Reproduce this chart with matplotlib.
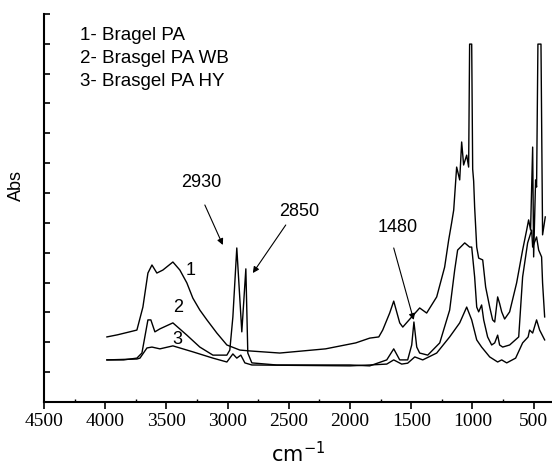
import matplotlib
matplotlib.use("Agg")
import matplotlib.pyplot as plt
from matplotlib.ticker import MultipleLocator, NullFormatter

plt.rcParams["mathtext.fontset"] = "custom"
plt.rcParams["mathtext.rm"] = "Liberation Sans"
plt.rcParams["mathtext.it"] = "Liberation Sans:italic"
plt.rcParams["mathtext.bf"] = "Liberation Sans:bold"

# ---- data (wavenumber cm-1, absorbance in arbitrary units) ----
wn1 = [3986, 3900, 3800, 3741, 3692, 3651, 3618, 3578, 3529, 3447, 3390, 3333, 3284,
       3227, 3169, 3088, 3006, 2900, 2818, 2574, 2200, 1953, 1839, 1765, 1733, 1676,
       1643, 1594, 1569, 1496, 1431, 1374, 1292, 1227, 1194, 1170, 1153, 1129, 1104,
       1088, 1072, 1047, 1031, 1023, 1006, 998, 990, 982, 965, 949, 916, 892, 859,
       835, 818, 794, 778, 761, 737, 696, 639, 590, 557, 541, 525, 508, 500, 484,
       476, 465, 440, 427, 405]
ab1 = [2.18, 2.25, 2.35, 2.41, 3.18, 4.32, 4.59, 4.32, 4.42, 4.69, 4.42, 3.99, 3.48,
       3.08, 2.75, 2.31, 1.91, 1.74, 1.71, 1.64, 1.78, 1.98, 2.14, 2.18, 2.41, 2.98,
       3.38, 2.65, 2.51, 2.85, 3.15, 2.98, 3.52, 4.52, 5.43, 6.00, 6.43, 7.87, 7.44,
       8.71, 7.94, 8.27, 7.87, 11.99, 11.99, 7.80, 7.40, 6.53, 5.19, 4.82, 4.76, 3.85,
       3.18, 2.75, 2.68, 3.52, 3.30, 3.02, 2.78, 3.02, 3.99, 5.09, 5.76, 6.10, 5.76,
       8.54, 4.86, 7.44, 7.20, 11.99, 11.99, 5.60, 6.20]

wn2 = [3986, 3850, 3741, 3700, 3651, 3627, 3594, 3553, 3447, 3333, 3227, 3120, 3006,
       2982, 2957, 2925, 2884, 2851, 2835, 2802, 2600, 2000, 1839, 1700, 1643,
       1594, 1529, 1496, 1478, 1455, 1431, 1365, 1267, 1186, 1145, 1121, 1063, 1023,
       1006, 982, 965, 949, 925, 908, 876, 843, 818, 794, 778, 753, 696, 622, 590,
       549, 516, 508, 476, 459, 435, 427, 410]
ab2 = [1.41, 1.41, 1.47, 1.64, 2.75, 2.75, 2.35, 2.45, 2.65, 2.24, 1.84, 1.57, 1.57,
       1.74, 2.85, 5.16, 2.35, 4.46, 1.64, 1.31, 1.24, 1.24, 1.21, 1.41, 1.78,
       1.41, 1.41, 1.91, 2.68, 1.84, 1.64, 1.57, 1.98, 3.08, 4.42, 5.09, 5.33, 5.19,
       5.19, 4.19, 3.18, 3.02, 3.25, 2.75, 2.18, 1.91, 1.98, 2.24, 1.91, 1.84, 1.91,
       2.18, 4.19, 5.33, 5.76, 5.19, 5.53, 5.09, 4.86, 3.99, 2.85]

wn3 = [3986, 3741, 3716, 3659, 3618, 3553, 3447, 3284, 3120, 3006, 2957, 2925,
       2892, 2859, 2802, 2000, 1839, 1700, 1643, 1578, 1529, 1471, 1406, 1292, 1186,
       1104, 1047, 1006, 965, 925, 859, 794, 761, 720, 647, 590, 545, 533, 508, 476,
       451, 410]
ab3 = [1.41, 1.44, 1.47, 1.81, 1.84, 1.78, 1.88, 1.68, 1.47, 1.34, 1.61, 1.47,
       1.57, 1.31, 1.24, 1.21, 1.24, 1.27, 1.41, 1.27, 1.30, 1.51, 1.41, 1.64, 2.18,
       2.65, 3.18, 2.75, 2.08, 1.84, 1.51, 1.34, 1.41, 1.31, 1.47, 1.98, 2.18, 2.41,
       2.31, 2.75, 2.41, 2.08]

legend_lines = ["1- Bragel PA", "2- Brasgel PA WB", "3- Brasgel PA HY"]
peak_labels = ["2930", "2850", "1480"]
x_ticks = [4500, 4000, 3500, 3000, 2500, 2000, 1500, 1000, 500]

# ---- figure ----
fig = plt.figure(figsize=(5.52, 4.65), dpi=100)
ax = fig.add_axes([0.0797, 0.1355, 0.9203, 0.8345])

for w, a in ((wn1, ab1), (wn2, ab2), (wn3, ab3)):
    ax.plot(w, a, color="black", lw=1.0)

ax.set_xlim(4500, 350)
ax.set_ylim(0, 13)

for s in ("top", "right"):
    ax.spines[s].set_visible(False)
for s in ("left", "bottom"):
    ax.spines[s].set_linewidth(1.5)

ax.set_xticks(x_ticks)
ax.set_xticklabels([str(t) for t in x_ticks], family="Liberation Serif", fontsize=14)
ax.xaxis.set_minor_locator(MultipleLocator(250))
ax.yaxis.set_major_locator(MultipleLocator(1))
ax.yaxis.set_major_formatter(NullFormatter())
ax.tick_params(axis="y", which="major", direction="in", length=4, width=1.2)
ax.tick_params(axis="x", which="major", direction="out", length=5, width=1.2, pad=3)
ax.tick_params(axis="x", which="minor", direction="in", length=2, width=1.0)

sans = "Liberation Sans"
ax.set_ylabel("Abs", family=sans, fontsize=13)
ax.yaxis.set_label_coords(-0.037, 0.559)
ax.set_xlabel(r"$\mathregular{cm^{-1}}$", fontsize=15, labelpad=8)

# legend text
for i, t in enumerate(legend_lines):
    ax.text(4206, 12.29 - i * 0.77, t, family=sans, fontsize=13.5, va="center", ha="left")

# curve numbers
ax.text(3300, 4.42, "1", family=sans, fontsize=13, ha="center", va="center")
ax.text(3406, 3.18, "2", family=sans, fontsize=13, ha="center", va="center")
ax.text(3414, 2.08, "3", family=sans, fontsize=13, ha="center", va="center")

# peak annotations with arrows
arr = dict(arrowstyle="-|>", color="black", lw=0.8, mutation_scale=9, shrinkA=0, shrinkB=0)
ax.text(3218, 7.37, peak_labels[0], family=sans, fontsize=13, ha="center", va="center")
ax.annotate("", xy=(3039, 5.26), xytext=(3186, 6.6), arrowprops=arr)
ax.text(2418, 6.37, peak_labels[1], family=sans, fontsize=13, ha="center", va="center")
ax.annotate("", xy=(2794, 4.32), xytext=(2525, 5.93), arrowprops=arr)
ax.text(1610, 5.83, peak_labels[2], family=sans, fontsize=13, ha="center", va="center")
ax.annotate("", xy=(1480, 2.75), xytext=(1643, 5.16), arrowprops=arr)

fig.savefig("out.png", dpi=100)
